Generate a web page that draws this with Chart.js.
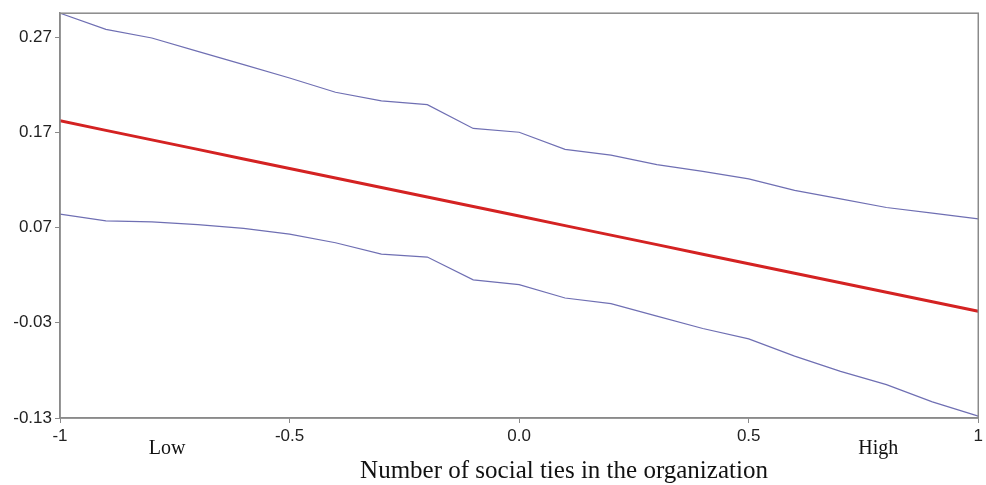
<!DOCTYPE html>
<html>
<head>
<meta charset="utf-8">
<script src="https://cdn.jsdelivr.net/npm/chart.js@4/dist/chart.umd.min.js"></script>
<style>
  html, body { margin: 0; padding: 0; background: #ffffff; }
  #wrap { width: 986px; height: 485px; position: relative; }
</style>
</head>
<body>
<div id="wrap"><canvas id="c" width="986" height="485"></canvas></div>
<script>
// Conditional effect along the number of social ties, with its confidence band
const tiesValues = [-1, -0.9, -0.8, -0.7, -0.6, -0.5, -0.4, -0.3, -0.2, -0.1, 0,
                    0.1, 0.2, 0.3, 0.4, 0.5, 0.6, 0.7, 0.8, 0.9, 1];
const effect = [0.182, 0.172, 0.162, 0.152, 0.142, 0.132, 0.122, 0.112, 0.102, 0.092, 0.082,
                0.072, 0.062, 0.052, 0.042, 0.032, 0.022, 0.012, 0.002, -0.008, -0.018];
const upperBound = [0.295, 0.278, 0.269, 0.255, 0.241, 0.227, 0.212, 0.203, 0.199, 0.174, 0.170,
                    0.152, 0.146, 0.136, 0.129, 0.121, 0.109, 0.100, 0.091, 0.085, 0.079];
const lowerBound = [0.084, 0.077, 0.076, 0.073, 0.069, 0.063, 0.054, 0.042, 0.039, 0.015, 0.010,
                    -0.004, -0.010, -0.023, -0.036, -0.047, -0.065, -0.081, -0.095, -0.113, -0.128];
const xTicks = [-1, -0.5, 0, 0.5, 1];
const xTickLabels = ['-1', '-0.5', '0.0', '0.5', '1'];
const yTicks = [0.27, 0.17, 0.07, -0.03, -0.13];
const yTickLabels = ['0.27', '0.17', '0.07', '-0.03', '-0.13'];
const endLabels = ['Low', 'High'];
const axisTitle = 'Number of social ties in the organization';

const toPoints = arr => tiesValues.map((x, i) => ({ x: x, y: arr[i] }));

const frameAndLabels = {
  id: 'frameAndLabels',
  afterDraw(chart) {
    const { ctx, chartArea: a } = chart;
    ctx.save();
    ctx.strokeStyle = '#8a8a8a';
    ctx.lineWidth = 1.5;
    ctx.strokeRect(a.left, a.top, a.right - a.left, a.bottom - a.top);
    ctx.fillStyle = '#111';
    ctx.textAlign = 'center';
    ctx.textBaseline = 'alphabetic';
    ctx.font = '20px "Liberation Serif", "Times New Roman", serif';
    ctx.fillText(endLabels[0], a.left + 107, a.bottom + 36);
    ctx.fillText(endLabels[1], a.right - 100, a.bottom + 36);
    ctx.font = '25px "Liberation Serif", "Times New Roman", serif';
    ctx.fillText(axisTitle, 564, a.bottom + 60);
    ctx.restore();
  }
};

new Chart(document.getElementById('c'), {
  type: 'line',
  data: {
    datasets: [
      { data: toPoints(upperBound), borderColor: '#6f6fb3', borderWidth: 1.2, pointRadius: 0, tension: 0 },
      { data: toPoints(lowerBound), borderColor: '#6f6fb3', borderWidth: 1.2, pointRadius: 0, tension: 0 },
      { data: toPoints(effect), borderColor: '#d42222', borderWidth: 3, pointRadius: 0, tension: 0 }
    ]
  },
  options: {
    responsive: false,
    animation: false,
    layout: { padding: { top: 12, right: 6, left: 0, bottom: 0 } },
    plugins: { legend: { display: false }, tooltip: { enabled: false } },
    scales: {
      x: {
        type: 'linear', min: -1, max: 1,
        afterBuildTicks: s => { s.ticks = xTicks.map(v => ({ value: v })); },
        afterFit: s => { s.height = 67; },
        ticks: {
          callback: (v) => xTickLabels[xTicks.indexOf(v)],
          color: '#222', padding: 3, maxRotation: 0, autoSkip: false,
          font: { family: '"Liberation Sans", Arial, sans-serif', size: 17 }
        },
        grid: { drawOnChartArea: false, drawTicks: true, tickLength: 5, color: '#8a8a8a' },
        border: { display: true, color: '#8a8a8a', width: 1.5 }
      },
      y: {
        type: 'linear', min: -0.13, max: 0.295,
        afterBuildTicks: s => { s.ticks = yTicks.map(v => ({ value: v })); },
        afterFit: s => { s.width = 60; },
        ticks: {
          callback: (v) => yTickLabels[yTicks.indexOf(v)],
          color: '#222', padding: 3, autoSkip: false,
          font: { family: '"Liberation Sans", Arial, sans-serif', size: 17 }
        },
        grid: { drawOnChartArea: false, drawTicks: true, tickLength: 5, color: '#8a8a8a' },
        border: { display: true, color: '#8a8a8a', width: 1.5 }
      }
    }
  },
  plugins: [frameAndLabels]
});
</script>
</body>
</html>
